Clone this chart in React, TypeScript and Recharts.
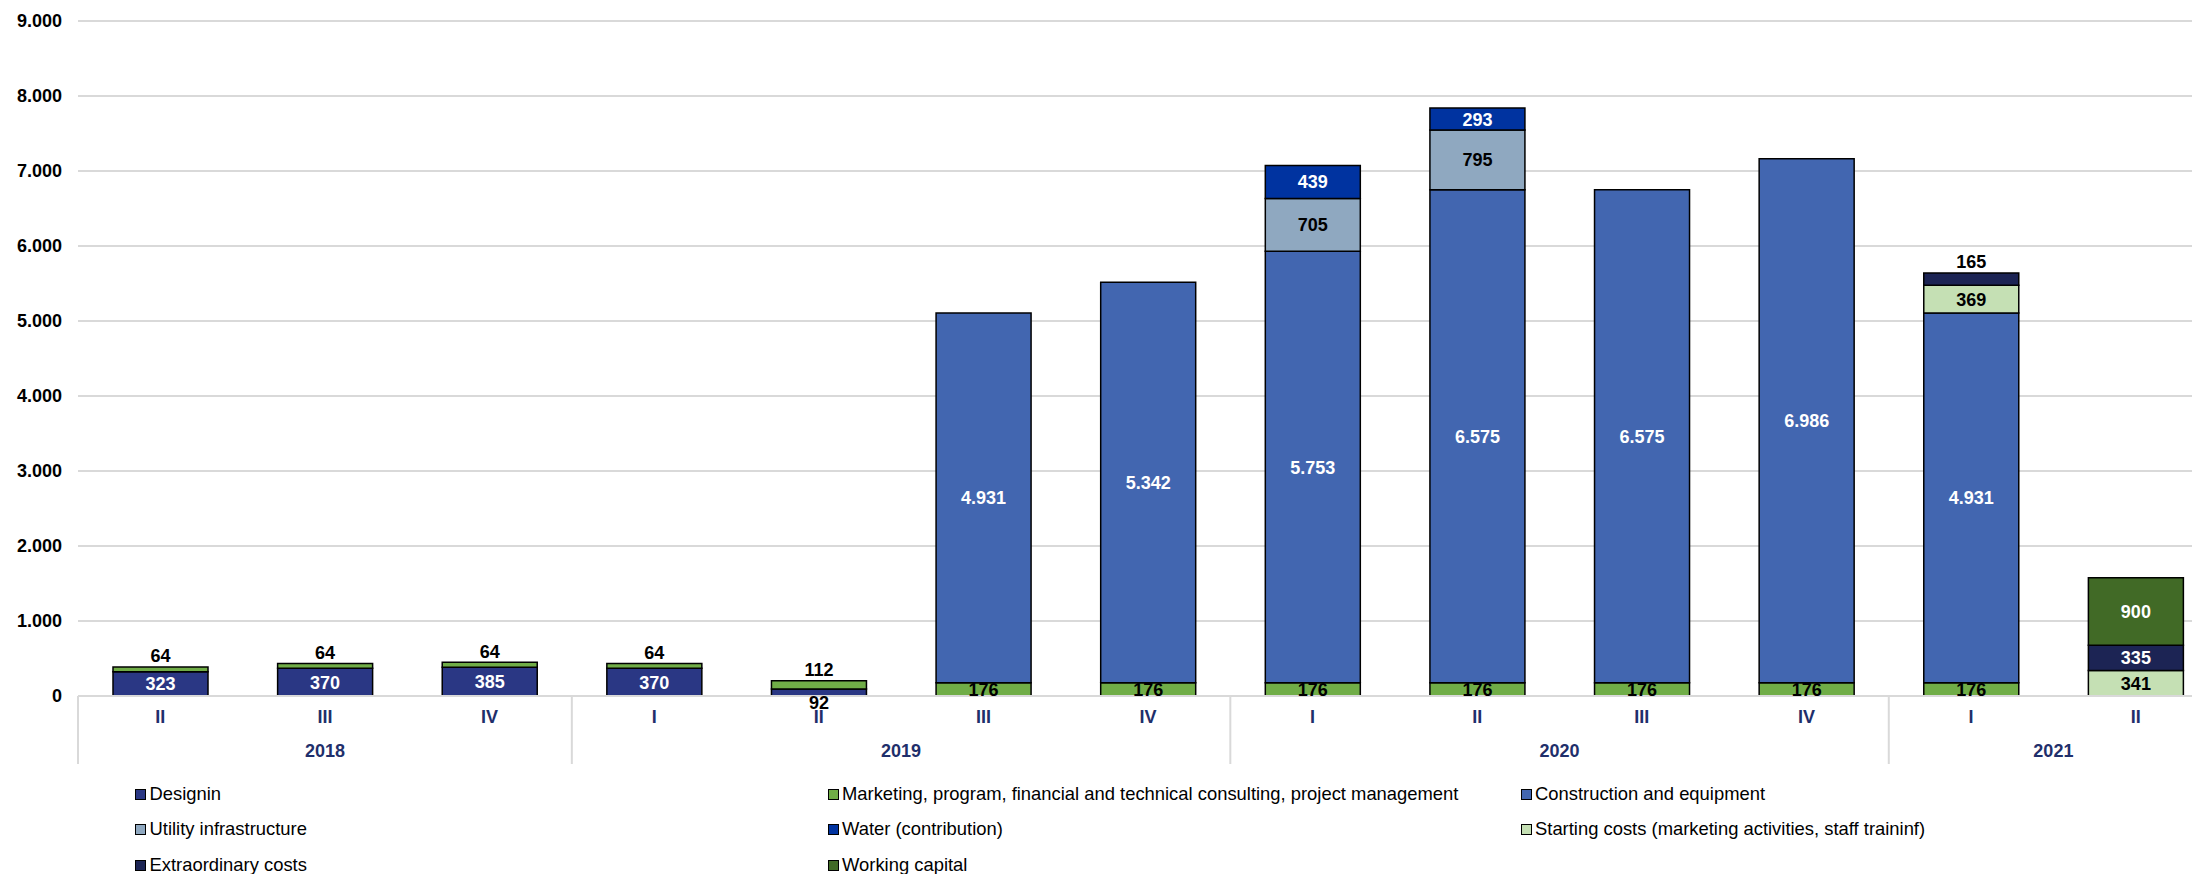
import { BarChart, Bar, XAxis, YAxis, CartesianGrid, LabelList } from "recharts"

// quarters along the axis, with the year each one belongs to
const quarters = ["II", "III", "IV", "I", "II", "III", "IV", "I", "II", "III", "IV", "I", "II"]
const years = ["2018", "2018", "2018", "2019", "2019", "2019", "2019", "2020", "2020", "2020", "2020", "2021", "2021"]

// cost items per quarter (null = nothing in that quarter)
const designin = [323, 370, 385, 370, 92, null, null, null, null, null, null, null, null]
const marketing = [64, 64, 64, 64, 112, 176, 176, 176, 176, 176, 176, 176, null]
const construction = [null, null, null, null, null, 4931, 5342, 5753, 6575, 6575, 6986, 4931, null]
const utility = [null, null, null, null, null, null, null, 705, 795, null, null, null, null]
const water = [null, null, null, null, null, null, null, 439, 293, null, null, null, null]
const starting = [null, null, null, null, null, null, null, null, null, null, null, 369, 341]
const extraordinary = [null, null, null, null, null, null, null, null, null, null, null, 165, 335]
const workingCapital = [null, null, null, null, null, null, null, null, null, null, null, null, 900]

const yTicks = [0, 1000, 2000, 3000, 4000, 5000, 6000, 7000, 8000, 9000]

const series = [
  { key: "designin", name: "Designin", values: designin, fill: "#2a3784", text: "#fff" },
  {
    key: "marketing",
    name: "Marketing, program, financial and technical consulting, project management",
    values: marketing,
    fill: "#70ad47",
    text: "#000",
  },
  { key: "construction", name: "Construction and equipment", values: construction, fill: "#4266b0", text: "#fff" },
  { key: "utility", name: "Utility infrastructure", values: utility, fill: "#8fa8c0", text: "#000" },
  { key: "water", name: "Water (contribution)", values: water, fill: "#0033a0", text: "#fff" },
  {
    key: "starting",
    name: "Starting costs (marketing activities, staff traininf)",
    values: starting,
    fill: "#c5e0b4",
    text: "#000",
  },
  { key: "extraordinary", name: "Extraordinary costs", values: extraordinary, fill: "#1c2454", text: "#fff" },
  { key: "workingCapital", name: "Working capital", values: workingCapital, fill: "#416a26", text: "#fff" },
]

const data = quarters.map((q, i) => {
  const row: Record<string, string | number | null> = { key: `${years[i]}-${q}-${i}`, q, year: years[i] }
  series.forEach((s) => {
    row[s.key] = s.values[i]
  })
  return row
})

const FONT = "'Liberation Sans', Arial, Helvetica, sans-serif"
const CHART_W = 2220
const CHART_H = 780
const Y_AXIS_W = 78
const MARGIN = { top: 21, right: 2, bottom: 4, left: 0 }
const BAND = (CHART_W - MARGIN.left - MARGIN.right - Y_AXIS_W) / quarters.length
const SMALL = 170
const AXIS_BLUE = "#1f2f6b"
const GRID = "#d9d9d9"

const fmt = (v: number) => String(v).replace(/\B(?=(\d{3})+(?!\d))/g, ".")

// segments too thin to hold their value get the label outside the stack
const makeLabel = (seriesIndex: number) => (props: any) => {
  const vb = props.viewBox ?? props
  const x = Number(vb.x ?? props.x)
  const y = Number(vb.y ?? props.y)
  const w = Number(vb.width ?? props.width)
  const h = Number(vb.height ?? props.height)
  const value = Number(props.value)
  const index = props.index as number
  if (!value || isNaN(x) || isNaN(y)) return null

  const s = series[seriesIndex]
  const hasAbove = series.slice(seriesIndex + 1).some((o) => (o.values[index] ?? 0) > 0)
  const top = Math.min(y, y + h)
  const bottom = Math.max(y, y + h)
  let cy = top + Math.abs(h) / 2
  let color = s.text
  if (value < SMALL) {
    color = "#000"
    cy = hasAbove ? bottom + 7 : top - 11
  }
  return (
    <text
      x={x + w / 2}
      y={cy}
      dy="0.36em"
      textAnchor="middle"
      fontFamily={FONT}
      fontSize={18}
      fontWeight="bold"
      fill={color}
    >
      {fmt(value)}
    </text>
  )
}

// quarter label, year label centred under its group, and group dividers
const yearGroups = years.reduce<{ year: string; start: number; size: number }[]>((acc, y, i) => {
  const last = acc[acc.length - 1]
  if (last && last.year === y) last.size += 1
  else acc.push({ year: y, start: i, size: 1 })
  return acc
}, [])

const QuarterTick = (props: any) => {
  const { x, y, payload } = props
  const index = payload.index as number
  const group = yearGroups.find((g) => g.start === index)
  const left = x - BAND / 2
  return (
    <g>
      <text x={x} y={y + 27} textAnchor="middle" fontFamily={FONT} fontSize={18} fontWeight="bold" fill={AXIS_BLUE}>
        {quarters[index]}
      </text>
      {group && (
        <>
          <line x1={left} y1={y} x2={left} y2={y + 68} stroke={GRID} strokeWidth={2} />
          <text
            x={left + (group.size * BAND) / 2}
            y={y + 61}
            textAnchor="middle"
            fontFamily={FONT}
            fontSize={18}
            fontWeight="bold"
            fill={AXIS_BLUE}
          >
            {group.year}
          </text>
        </>
      )}
    </g>
  )
}

const legendCols = [135, 827.5, 1520.5]
const legendRows = [784, 819, 855]

export default function App() {
  return (
    <div
      style={{
        position: "absolute",
        left: 0,
        top: 0,
        width: 2192,
        height: 874,
        overflow: "hidden",
        background: "#fff",
        fontFamily: FONT,
      }}
    >
      <BarChart width={CHART_W} height={CHART_H} data={data} margin={MARGIN} barSize={95}>
        <CartesianGrid vertical={false} stroke={GRID} strokeWidth={2} />
        <XAxis
          dataKey="key"
          interval={0}
          tickLine={false}
          tickSize={0}
          tickMargin={0}
          height={80}
          axisLine={{ stroke: GRID, strokeWidth: 2 }}
          tick={<QuarterTick />}
        />
        <YAxis
          width={Y_AXIS_W}
          domain={[0, 9000]}
          ticks={yTicks}
          interval={0}
          axisLine={false}
          tickLine={false}
          tickMargin={10}
          tickFormatter={fmt}
          tick={{ fontFamily: FONT, fontSize: 18, fontWeight: "bold", fill: "#000" }}
        />
        {series.map((s, i) => (
          <Bar
            key={s.key}
            dataKey={s.key}
            name={s.name}
            stackId="cost"
            fill={s.fill}
            stroke="#000"
            strokeWidth={1.5}
            isAnimationActive={false}
          >
            <LabelList dataKey={s.key} content={makeLabel(i)} />
          </Bar>
        ))}
      </BarChart>

      {series.map((s, i) => (
        <div
          key={s.key}
          style={{
            position: "absolute",
            left: legendCols[i % 3],
            top: legendRows[Math.floor(i / 3)],
            height: 20,
            display: "flex",
            alignItems: "center",
            fontSize: 18.4,
            color: "#000",
            whiteSpace: "nowrap",
          }}
        >
          <span
            style={{
              width: 11,
              height: 11,
              boxSizing: "border-box",
              border: "1.5px solid #000",
              background: s.fill,
              marginRight: 3.5,
            }}
          />
          {s.name}
        </div>
      ))}
    </div>
  )
}
